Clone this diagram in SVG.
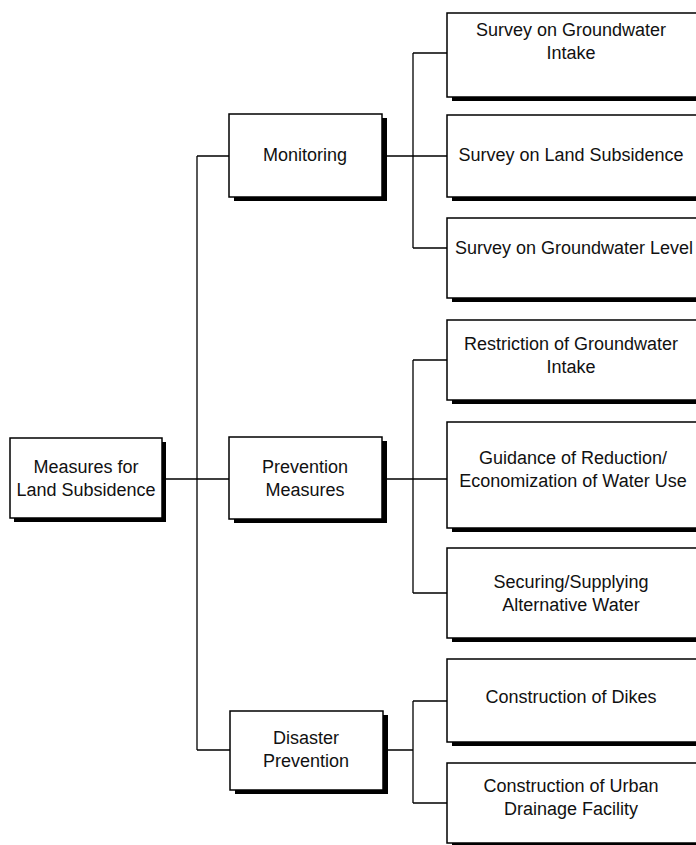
<svg xmlns="http://www.w3.org/2000/svg" width="696" height="845" viewBox="0 0 696 845">
<style>
.sh{fill:#000}
.bx{fill:#fff;stroke:#000;stroke-width:1.5}
.t{font-family:"Liberation Sans",Arial,sans-serif;font-size:18px;fill:#111;text-anchor:middle}
.c{fill:none;stroke:#000;stroke-width:1.3}
</style>
<rect width="696" height="845" fill="#fff"/>
<g id="connectors" class="c">
<path d="M162,479H197M197,156V750M197,156H229M197,479H229M197,750H230"/>
<path d="M382,156H447M413,53V248M413,53H447M413,248H447"/>
<path d="M382,479H447M413,360V593M413,360H447M413,593H447"/>
<path d="M383,750H413M413,701V803M413,701H447M413,803H447"/>
</g>
<g id="root">
<rect class="sh" x="14" y="442" width="152" height="80"/>
<rect class="bx" x="10" y="438" width="152" height="80"/>
<text class="t" x="86" y="473">Measures for</text>
<text class="t" x="86" y="496">Land Subsidence</text>
</g>
<g id="monitoring">
<rect class="sh" x="234" y="118" width="153" height="83"/>
<rect class="bx" x="229" y="114" width="153" height="83"/>
<text class="t" x="305" y="161">Monitoring</text>
</g>
<g id="prevention">
<rect class="sh" x="234" y="441" width="153" height="82"/>
<rect class="bx" x="229" y="437" width="153" height="82"/>
<text class="t" x="305" y="473">Prevention</text>
<text class="t" x="305" y="496">Measures</text>
</g>
<g id="disaster">
<rect class="sh" x="235" y="715" width="153" height="79"/>
<rect class="bx" x="230" y="711" width="153" height="79"/>
<text class="t" x="306" y="744">Disaster</text>
<text class="t" x="306" y="767">Prevention</text>
</g>
<g id="leaf1">
<rect class="sh" x="452" y="17" width="253" height="84"/>
<rect class="bx" x="447" y="13" width="253" height="84"/>
<text class="t" x="571" y="36">Survey on Groundwater</text>
<text class="t" x="571" y="59">Intake</text>
</g>
<g id="leaf2">
<rect class="sh" x="452" y="119" width="253" height="82"/>
<rect class="bx" x="447" y="115" width="253" height="82"/>
<text class="t" x="571" y="161">Survey on Land Subsidence</text>
</g>
<g id="leaf3">
<rect class="sh" x="452" y="222" width="253" height="80"/>
<rect class="bx" x="447" y="218" width="253" height="80"/>
<text class="t" x="574" y="254">Survey on Groundwater Level</text>
</g>
<g id="leaf4">
<rect class="sh" x="452" y="324" width="253" height="80"/>
<rect class="bx" x="447" y="320" width="253" height="80"/>
<text class="t" x="571" y="350">Restriction of Groundwater</text>
<text class="t" x="571" y="373">Intake</text>
</g>
<g id="leaf5">
<rect class="sh" x="452" y="426" width="253" height="106"/>
<rect class="bx" x="447" y="422" width="253" height="106"/>
<text class="t" x="573" y="464">Guidance of Reduction/</text>
<text class="t" x="573" y="487">Economization of Water Use</text>
</g>
<g id="leaf6">
<rect class="sh" x="452" y="552" width="253" height="90"/>
<rect class="bx" x="447" y="548" width="253" height="90"/>
<text class="t" x="571" y="588">Securing/Supplying</text>
<text class="t" x="571" y="611">Alternative Water</text>
</g>
<g id="leaf7">
<rect class="sh" x="452" y="663" width="253" height="83"/>
<rect class="bx" x="447" y="659" width="253" height="83"/>
<text class="t" x="571" y="703">Construction of Dikes</text>
</g>
<g id="leaf8">
<rect class="sh" x="452" y="767" width="253" height="82"/>
<rect class="bx" x="447" y="763" width="253" height="80"/>
<text class="t" x="571" y="792">Construction of Urban</text>
<text class="t" x="571" y="815">Drainage Facility</text>
</g>
</svg>
